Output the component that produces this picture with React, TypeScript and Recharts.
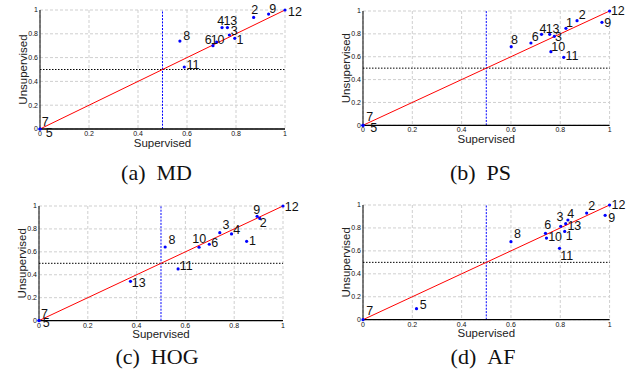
import React from 'react';
import { ScatterChart, Scatter, XAxis, YAxis, CartesianGrid, ReferenceLine } from 'recharts';

// point ids, shared by all four panels (index i -> id i+1)
const pointIds = ['1', '2', '3', '4', '5', '6', '7', '8', '9', '10', '11', '12', '13'];

// (a) MD
const mdSupervised = [0.795, 0.872, 0.773, 0.743, 0, 0.706, 0, 0.571, 0.933, 0.721, 0.589, 1, 0.765];
const mdUnsupervised = [0.762, 0.938, 0.79, 0.852, 0, 0.7, 0, 0.739, 0.966, 0.731, 0.521, 1, 0.852];

// (b) PS
const psSupervised = [0.823, 0.868, 0.776, 0.724, 0, 0.681, 0, 0.601, 0.969, 0.762, 0.814, 1, 0.757];
const psUnsupervised = [0.848, 0.915, 0.778, 0.796, 0, 0.72, 0, 0.688, 0.901, 0.644, 0.595, 1, 0.796];

// (c) HOG
const hogSupervised = [0.851, 0.905, 0.741, 0.789, 0, 0.698, 0, 0.517, 0.894, 0.656, 0.57, 1, 0.375];
const hogUnsupervised = [0.692, 0.892, 0.767, 0.756, 0, 0.666, 0, 0.642, 0.91, 0.64, 0.451, 1, 0.343];

// (d) AF
const afSupervised = [0.818, 0.907, 0.802, 0.831, 0.217, 0.74, 0, 0.6, 0.982, 0.744, 0.797, 1, 0.822];
const afUnsupervised = [0.77, 0.93, 0.814, 0.869, 0.096, 0.753, 0, 0.68, 0.91, 0.712, 0.622, 1, 0.837];

const axisTicks = [0, 0.2, 0.4, 0.6, 0.8, 1];
const captions = ['(a)\u00a0\u00a0MD', '(b)\u00a0\u00a0PS', '(c)\u00a0\u00a0HOG', '(d)\u00a0\u00a0AF'];

// layout: where each id's text sits relative to its dot, in px [dx, dy]
type Offsets = Record<string, [number, number]>;
const mdOffsets: Offsets = {
  '1': [1.7, 1.3], '2': [-2.3, -7.7], '3': [1.3, -3.7], '4': [-4.7, -6.3], '5': [5.7, 4],
  '6': [-8.3, -6], '7': [1.7, -6.7], '8': [3.3, -5.3], '9': [0.7, -5], '10': [-6, -2.3],
  '11': [2.3, -2.3], '12': [3, 2.3], '13': [-4, -6.3],
};
const psOffsets: Offsets = {
  '1': [0, -5], '2': [1.7, -5.7], '3': [0.7, 0.3], '4': [-2, -5], '5': [7.3, 2.3],
  '6': [0.7, -5.7], '7': [3.3, -8.7], '8': [-0.3, -6.7], '9': [2.3, 1], '10': [0.3, -5],
  '11': [1.7, -1.3], '12': [1.3, 0], '13': [-4, -5],
};
const hogOffsets: Offsets = {
  '1': [2.3, -0.3], '2': [0, 4.3], '3': [2.7, -7.3], '4': [1.7, -4.3], '5': [3.7, 2],
  '6': [2, -1.3], '7': [2, -7], '8': [3.3, -6.7], '9': [-4, -6], '10': [-6.7, -8],
  '11': [1.7, -2.7], '12': [1.7, 1], '13': [1.3, 1.7],
};
const afOffsets: Offsets = {
  '1': [1, 4.3], '2': [1.7, -6.7], '3': [-4.3, -9], '4': [-0.7, -6.3], '5': [3.3, -4],
  '6': [-1.3, -8.7], '7': [3.3, -9], '8': [3, -7.7], '9': [3, 3], '10': [1.7, -0.7],
  '11': [0.7, 8], '12': [2, 0.3], '13': [1.7, 2.7],
};

const FONT = '"Liberation Sans", Arial, Helvetica, sans-serif';

const buildPoints = (xs: number[], ys: number[]) =>
  pointIds.map((id, i) => ({ id, x: xs[i], y: ys[i] }));

const fmtTick = (v: number) => String(v);

type Frame = { left: number; right: number; top: number; bottom: number };

function Panel({ frame, points, offsets }: { frame: Frame; points: { id: string; x: number; y: number }[]; offsets: Offsets }) {
  const plotW = frame.right - frame.left;
  const plotH = frame.bottom - frame.top;

  const renderPoint = (props: any) => {
    const { cx, cy, payload } = props;
    const [dx, dy] = offsets[payload.id] || [2, -4];
    return (
      <g>
        <circle cx={cx} cy={cy} r={1.6} fill="#0000ff" />
        <text x={cx + dx} y={cy + dy} dominantBaseline="central" fontSize={12.5} fill="#111" fontFamily={FONT}>
          {payload.id}
        </text>
      </g>
    );
  };

  return (
    <div style={{ position: 'absolute', left: frame.left - 39, top: frame.top - 10 }}>
      <ScatterChart
        width={plotW + 70}
        height={plotH + 30}
        margin={{ top: 10, right: 31, bottom: 0, left: 19 }}
        style={{ fontFamily: FONT }}
      >
        <CartesianGrid strokeDasharray="3 2" stroke="#cfcfcf" />
        <XAxis
          type="number"
          dataKey="x"
          domain={[0, 1]}
          ticks={axisTicks}
          interval={0}
          tickFormatter={fmtTick}
          tickLine={false}
          tickSize={0}
          tickMargin={2}
          height={20}
          tick={{ fontSize: 7, fill: '#111' }}
          axisLine={{ stroke: '#000', strokeWidth: 1.3 }}
          label={({ viewBox }: any) => (
            <text
              x={viewBox.x + viewBox.width / 2}
              y={viewBox.y + 17.5}
              textAnchor="middle"
              fontSize={11.5}
              fill="#222"
              fontFamily={FONT}
            >
              Supervised
            </text>
          )}
        />
        <YAxis
          type="number"
          dataKey="y"
          domain={[0, 1]}
          ticks={axisTicks}
          interval={0}
          tickFormatter={fmtTick}
          tickLine={false}
          tickSize={0}
          tickMargin={2}
          width={20}
          tick={{ fontSize: 7, fill: '#111' }}
          axisLine={{ stroke: '#000', strokeWidth: 1 }}
          label={({ viewBox }: any) => (
            <text
              x={0}
              y={0}
              transform={`translate(${viewBox.x + 2.7}, ${viewBox.y + viewBox.height / 2}) rotate(-90)`}
              textAnchor="middle"
              dominantBaseline="central"
              fontSize={11.5}
              fill="#222"
              fontFamily={FONT}
            >
              Unsupervised
            </text>
          )}
        />
        <ReferenceLine
          key="half-y"
          segment={[{ x: 0, y: 0.5 }, { x: 1, y: 0.5 }]}
          stroke="#000000"
          strokeDasharray="1.5 1.5"
          strokeWidth={1}
        />
        <ReferenceLine
          key="half-x"
          segment={[{ x: 0.5, y: 0 }, { x: 0.5, y: 1 }]}
          stroke="#0000ff"
          strokeDasharray="2 1.3"
          strokeWidth={1}
        />
        <ReferenceLine
          key="diag"
          segment={[{ x: 0, y: 0 }, { x: 1, y: 1 }]}
          stroke="#ff0000"
          strokeWidth={1}
        />
        <Scatter data={points} shape={renderPoint} isAnimationActive={false} />
      </ScatterChart>
    </div>
  );
}

function Caption({ text, cx, top }: { text: string; cx: number; top: number }) {
  return (
    <div
      style={{
        position: 'absolute',
        left: cx - 70,
        width: 140,
        top,
        textAlign: 'center',
        fontFamily: '"Liberation Serif", "Times New Roman", serif',
        fontSize: 22,
        lineHeight: '22px',
        color: '#111',
        whiteSpace: 'nowrap',
      }}
    >
      {text}
    </div>
  );
}

export default function App() {
  return (
    <div style={{ position: 'fixed', left: 0, top: 0, width: 639, height: 383, background: '#fff', overflow: 'hidden' }}>
      <Panel
        frame={{ left: 39.5, right: 284.5, top: 10.3, bottom: 129.3 }}
        points={buildPoints(mdSupervised, mdUnsupervised)}
        offsets={mdOffsets}
      />
      <Panel
        frame={{ left: 362.7, right: 609.3, top: 11, bottom: 125.3 }}
        points={buildPoints(psSupervised, psUnsupervised)}
        offsets={psOffsets}
      />
      <Panel
        frame={{ left: 39, right: 283, top: 205.7, bottom: 320.3 }}
        points={buildPoints(hogSupervised, hogUnsupervised)}
        offsets={hogOffsets}
      />
      <Panel
        frame={{ left: 362.7, right: 609.3, top: 205.3, bottom: 320 }}
        points={buildPoints(afSupervised, afUnsupervised)}
        offsets={afOffsets}
      />
      <Caption text={captions[0]} cx={156.5} top={161.6} />
      <Caption text={captions[1]} cx={480.5} top={161.6} />
      <Caption text={captions[2]} cx={157} top={345.6} />
      <Caption text={captions[3]} cx={483} top={345.6} />
    </div>
  );
}
